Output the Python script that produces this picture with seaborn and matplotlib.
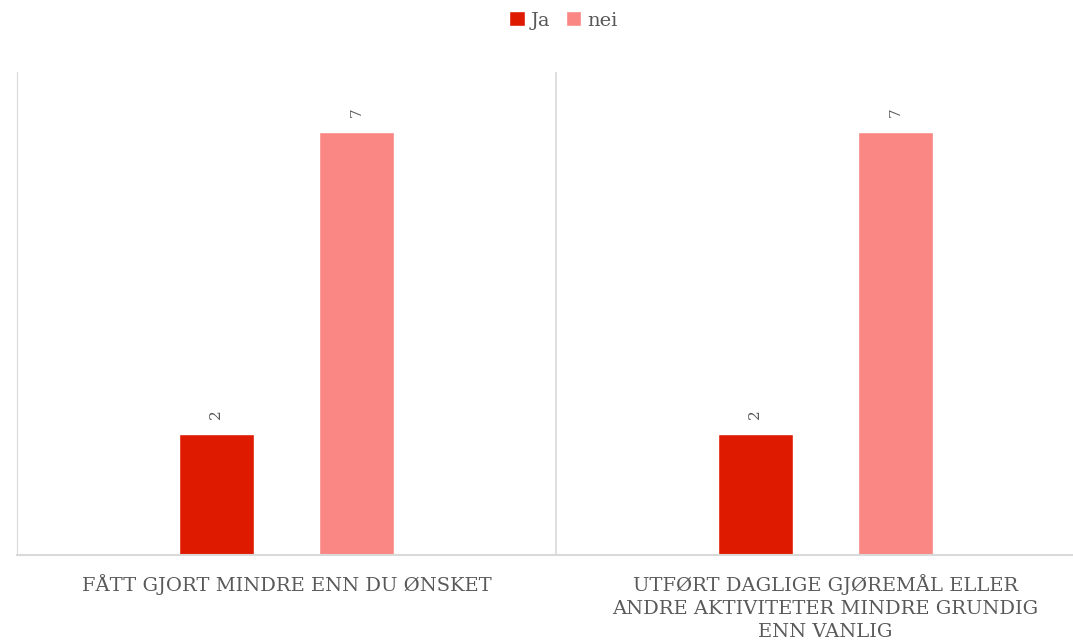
import pandas as pd
import matplotlib
matplotlib.use('Agg')
import matplotlib.pyplot as plt
import seaborn as sns

categories = ['FÅTT GJORT MINDRE ENN DU ØNSKET',
              'UTFØRT DAGLIGE GJØREMÅL ELLER\nANDRE AKTIVITETER MINDRE GRUNDIG\nENN VANLIG']
series = ['Ja', 'nei']
ja_values = [2, 2]
nei_values = [7, 7]
colors = ['#DE1A00', '#FA8784']

rows = []
for cat, j, n in zip(categories, ja_values, nei_values):
    rows.append({'kategori': cat, 'svar': 'Ja', 'antall': j})
    rows.append({'kategori': cat, 'svar': 'nei', 'antall': n})
df = pd.DataFrame(rows)

sns.set_style('white')
plt.rcParams['font.family'] = ['DejaVu Serif']
text_color = '#595959'

fig = plt.figure(figsize=(10.73, 6.43), dpi=100)
ax = fig.add_axes([17 / 1073, (643 - 555) / 643, 1078 / 1073, (555 - 72) / 643])

sns.barplot(data=df, x='kategori', y='antall', hue='svar', order=categories,
            hue_order=series, palette=colors, width=0.52, gap=0.47,
            saturation=1, ax=ax, legend=True)

ax.set_xlim(-0.5, 1.5)
ax.set_ylim(0, 8)
ax.set_yticks([])
ax.set_xlabel('')
ax.set_ylabel('')

for side in ['top', 'right']:
    ax.spines[side].set_visible(False)
ax.spines['left'].set_color('#D9D9D9')
ax.spines['bottom'].set_color('#D9D9D9')
ax.spines['bottom'].set_linewidth(1.5)
ax.axvline(0.5, color='#D9D9D9', lw=1.2)

ax.tick_params(axis='x', length=0, pad=14, labelsize=14, labelcolor=text_color)
for lbl in ax.get_xticklabels():
    lbl.set_linespacing(1.35)

for cont in ax.containers:
    for bar in cont:
        h = bar.get_height()
        ax.text(bar.get_x() + bar.get_width() / 2, h + 0.25, f'{h:.0f}',
                rotation=90, ha='center', va='bottom', fontsize=11, color=text_color)

handles, labels = ax.get_legend_handles_labels()
ax.legend_.remove()
fig.legend(handles, labels, loc='center', bbox_to_anchor=(0.525, 0.968), ncol=2,
           frameon=False, fontsize=14, labelcolor=text_color, handlelength=0.8,
           handleheight=0.8, handletextpad=0.3, columnspacing=0.8)

fig.savefig('out.png', dpi=100)
